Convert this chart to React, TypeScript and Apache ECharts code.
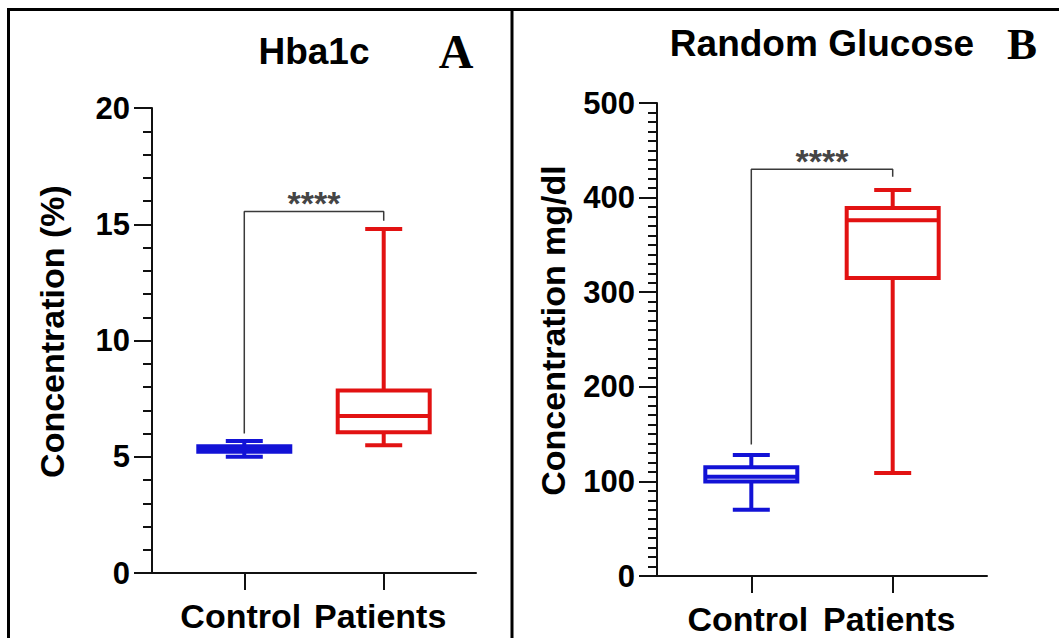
import React, { useEffect, useRef } from "react";
import * as echarts from "echarts";

const categories = ["Control", "Patients"];
// box values: [min, Q1, median, Q3, max]
const hba1cControl = [5.0, 5.22, 5.33, 5.45, 5.68];
const hba1cPatients = [5.5, 6.05, 6.75, 7.85, 14.8];
const glucoseControl = [70, 100, 105, 115, 128];
const glucosePatients = [109, 315, 376, 389, 408];
// significance bracket: [left foot, top, right foot]
const hba1cBracket = [6.0, 15.55, 15.15];
const glucoseBracket = [139, 430, 422];
const significance = "****";
const hba1cAxis = { min: 0, max: 20, interval: 5, minorSplit: 5 };
const glucoseAxis = { min: 0, max: 500, interval: 100, minorSplit: 10 };

const BLUE = "#1212d6";
const RED = "#e21212";
const SANS = "'Liberation Sans', Arial, sans-serif";
const SERIF = "'Liberation Serif', 'Times New Roman', serif";

function boxRenderer(color: string) {
  return (params: any, api: any) => {
    const x = api.value(0);
    const pMin = api.coord([x, api.value(1)]);
    const pQ1 = api.coord([x, api.value(2)]);
    const pMed = api.coord([x, api.value(3)]);
    const pQ3 = api.coord([x, api.value(4)]);
    const pMax = api.coord([x, api.value(5)]);
    const cx = pMax[0];
    const bw = 92;
    const cw = 37;
    const st = { stroke: color, lineWidth: 4, fill: null };
    return {
      type: "group",
      children: [
        { type: "line", shape: { x1: cx, y1: pMax[1], x2: cx, y2: pQ3[1] }, style: st },
        { type: "line", shape: { x1: cx, y1: pQ1[1], x2: cx, y2: pMin[1] }, style: st },
        { type: "line", shape: { x1: cx - cw / 2, y1: pMax[1], x2: cx + cw / 2, y2: pMax[1] }, style: st },
        { type: "line", shape: { x1: cx - cw / 2, y1: pMin[1], x2: cx + cw / 2, y2: pMin[1] }, style: st },
        {
          type: "rect",
          shape: { x: cx - bw / 2, y: pQ3[1], width: bw, height: pQ1[1] - pQ3[1] },
          style: { stroke: color, lineWidth: 4, fill: "#ffffff" },
        },
        { type: "line", shape: { x1: cx - bw / 2, y1: pMed[1], x2: cx + bw / 2, y2: pMed[1] }, style: st },
      ],
    };
  };
}

function makeXAxis(gridIndex: number, margin: number) {
  return {
    type: "value",
    gridIndex,
    min: 1 - margin,
    max: 2 + margin,
    splitLine: { show: false },
    axisLine: { show: true, lineStyle: { color: "#111", width: 2 } },
    axisTick: { show: true, customValues: [1, 2], length: 17, lineStyle: { color: "#111", width: 2 } },
    axisLabel: {
      show: true,
      customValues: [1, 2],
      formatter: (v: number) => categories[Math.round(v) - 1] ?? "",
      fontFamily: SANS,
      fontWeight: "bold",
      fontSize: 34,
      color: "#000",
      margin: 26,
      padding: [0, 7, 0, 0],
    },
  };
}

function makeYAxis(gridIndex: number, cfg: any, name: string, nameGap: number) {
  return {
    type: "value",
    gridIndex,
    min: cfg.min,
    max: cfg.max,
    interval: cfg.interval,
    name,
    nameLocation: "middle",
    nameRotate: 90,
    nameGap,
    nameTextStyle: {
      fontFamily: SANS,
      fontWeight: "bold",
      fontSize: 34,
      color: "#000",
      padding: [0, 0, 0, 18],
    },
    splitLine: { show: false },
    axisLine: { show: true, lineStyle: { color: "#111", width: 2 } },
    axisTick: { show: true, length: 18, lineStyle: { color: "#111", width: 2 } },
    minorTick: { show: true, splitNumber: cfg.minorSplit, length: 9, lineStyle: { color: "#111", width: 2 } },
    axisLabel: {
      fontFamily: SANS,
      fontWeight: "bold",
      fontSize: 31,
      color: "#000",
      margin: 22,
    },
  };
}

function boxSeries(idx: number, x: number, vals: number[], color: string) {
  return {
    type: "custom",
    xAxisIndex: idx,
    yAxisIndex: idx,
    renderItem: boxRenderer(color),
    encode: { x: 0, y: [1, 2, 3, 4, 5] },
    data: [[x, ...vals]],
    silent: true,
    z: 3,
  };
}

function bracketSeries(idx: number, b: number[]) {
  return [
    {
      type: "line",
      xAxisIndex: idx,
      yAxisIndex: idx,
      data: [
        [1, b[0]],
        [1, b[1]],
        [2, b[1]],
        [2, b[2]],
      ],
      symbol: "none",
      lineStyle: { color: "#3a3a3a", width: 1.5 },
      silent: true,
      z: 2,
    },
    {
      type: "scatter",
      xAxisIndex: idx,
      yAxisIndex: idx,
      data: [[1.5, b[1]]],
      symbolSize: 0,
      silent: true,
      label: {
        show: true,
        formatter: significance,
        position: "top",
        distance: -9,
        fontFamily: SANS,
        fontWeight: "bold",
        fontSize: 34,
        color: "#111",
      },
    },
  ];
}

export default function App() {
  const ref = useRef<HTMLDivElement>(null);
  useEffect(() => {
    document.body.style.margin = "0";
    if (!ref.current) return;
    const chart = echarts.init(ref.current, null, { renderer: "svg" });
    const frame = { stroke: "#000", lineWidth: 3 };
    chart.setOption({
      animation: false,
      backgroundColor: "#ffffff",
      grid: [
        { left: 152, top: 108, width: 324, height: 465, outerBoundsMode: "none" },
        { left: 657, top: 103, width: 330, height: 473, outerBoundsMode: "none" },
      ],
      xAxis: [makeXAxis(0, 0.662), makeXAxis(1, 0.667)],
      yAxis: [
        makeYAxis(0, hba1cAxis, "Concentration (%)", 83),
        makeYAxis(1, glucoseAxis, "Concentration mg/dl", 87),
      ],
      series: [
        boxSeries(0, 1, hba1cControl, BLUE),
        boxSeries(0, 2, hba1cPatients, RED),
        ...bracketSeries(0, hba1cBracket),
        boxSeries(1, 1, glucoseControl, BLUE),
        boxSeries(1, 2, glucosePatients, RED),
        ...bracketSeries(1, glucoseBracket),
      ],
      graphic: [
        { type: "line", shape: { x1: 7, y1: 9.5, x2: 1059, y2: 9.5 }, style: frame, silent: true },
        { type: "line", shape: { x1: 8.5, y1: 8, x2: 8.5, y2: 638 }, style: frame, silent: true },
        { type: "line", shape: { x1: 512, y1: 8, x2: 512, y2: 638 }, style: frame, silent: true },
        {
          type: "text",
          x: 314,
          y: 51,
          style: { text: "Hba1c", fontFamily: SANS, fontWeight: "bold", fontSize: 37, fill: "#000", align: "center", verticalAlign: "middle" },
        },
        {
          type: "text",
          x: 456,
          y: 51,
          style: { text: "A", fontFamily: SERIF, fontWeight: "bold", fontSize: 48, fill: "#000", align: "center", verticalAlign: "middle" },
        },
        {
          type: "text",
          x: 822,
          y: 43,
          style: { text: "Random Glucose", fontFamily: SANS, fontWeight: "bold", fontSize: 37, fill: "#000", align: "center", verticalAlign: "middle" },
        },
        {
          type: "text",
          x: 1022,
          y: 44,
          style: { text: "B", fontFamily: SERIF, fontWeight: "bold", fontSize: 45, fill: "#000", align: "center", verticalAlign: "middle" },
        },
      ],
    });
    return () => chart.dispose();
  }, []);
  return <div ref={ref} style={{ width: 1059, height: 638 }} />;
}
